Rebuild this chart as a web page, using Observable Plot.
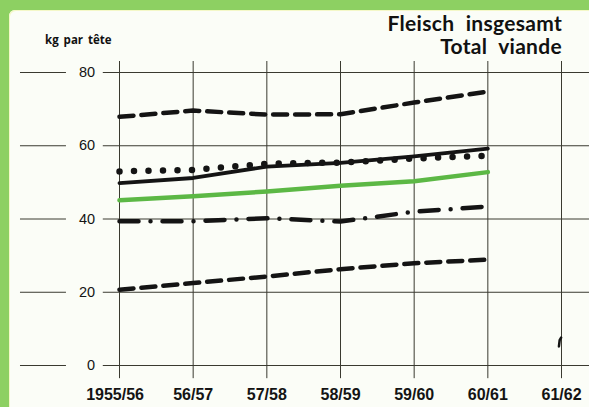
<!DOCTYPE html>
<html><head><meta charset="utf-8">
<script src="https://cdn.jsdelivr.net/npm/d3@7"></script>
<script src="https://cdn.jsdelivr.net/npm/@observablehq/plot@0.6"></script>
<style>
html,body{margin:0;padding:0;width:589px;height:407px;overflow:hidden;background:#8dd062;}
#panel{position:absolute;left:9px;top:10px;right:0;bottom:0;background:#fbfdf7;border-top-left-radius:6px;box-shadow:inset 1px 1px 0 #f4f8c8;}
#chart{position:absolute;left:0;top:0;}
.title{position:absolute;right:27px;text-align:right;font-family:Lato,"Open Sans",sans-serif;font-weight:700;font-size:21px;line-height:21px;color:#111;word-spacing:6px;letter-spacing:0.3px;white-space:nowrap;}
#t1{top:12px;}
#t2{top:35px;}
#unit{position:absolute;left:45px;top:32px;font-family:"Open Sans",sans-serif;font-weight:700;font-size:11.5px;color:#111;word-spacing:2px;}
</style></head>
<body>
<div id="panel"></div>
<div id="chart"></div>
<div class="title" id="t1">Fleisch insgesamt</div>
<div class="title" id="t2">Total viande</div>
<div id="unit">kg par tête</div>
<script>
const xLabels = ["1955/56","56/57","57/58","58/59","59/60","60/61","61/62"];
const yTicks = [0,20,40,60,80];
// series values, one per season 1955/56 .. 60/61
const topDashed   = [67.9, 69.6, 68.5, 68.6, 71.8, 74.8];
const dotted      = [53.0, 53.4, 55.1, 55.4, 56.5, 57.3];
const solid       = [49.8, 51.2, 54.3, 55.3, 57.1, 59.2];
const green       = [45.1, 46.2, 47.5, 49.1, 50.3, 52.8];
const dashDot     = [39.4, 39.4, 40.2, 39.3, 42.0, 43.4];
const lowDashed   = [20.7, 22.5, 24.3, 26.3, 27.9, 28.9];
// small stray pen mark near 61/62
const strayX = [5.965, 5.975, 5.995];
const strayY = [5.2, 6.9, 7.6];

const idx = xLabels.map((d,i)=>i);
const ink = "#141414";
const grid = "#3a3a30";
const lineOf = (vals, opts) => Plot.line(vals, {x:(d,i)=>i, y:d=>d, stroke:ink, strokeWidth:4, ...opts});

const chart = Plot.plot({
  width:589, height:407,
  marginLeft:119, marginRight:28, marginTop:72, marginBottom:42,
  style:{background:"transparent", overflow:"visible"},
  x:{type:"linear", domain:[0,6], axis:null},
  y:{domain:[0,80], axis:null},
  marks:[
    Plot.ruleY(yTicks, {x1:-0.22, x2:6.5, stroke:grid, strokeWidth:1}),
    Plot.ruleY(yTicks, {x1:-1.344, x2:-0.72, stroke:grid, strokeWidth:1}),
    Plot.text(yTicks, {x:-0.33, y:d=>d, text:d=>String(d), textAnchor:"end", fontSize:14.5, fontFamily:"Liberation Sans Narrow, Liberation Sans, Arial, sans-serif", fill:ink}),
    Plot.ruleX(idx, {x:d=>d, y1:-3.6, y2:83, stroke:grid, strokeWidth:1}),
    Plot.text(xLabels, {x:(d,i)=>i - (i === 0 ? 0.06 : 0), y:-8, text:d=>d, fontSize:16, fontWeight:"bold", fontFamily:"Liberation Sans Narrow, Liberation Sans, Arial, sans-serif", fill:ink}),
    lineOf(green, {stroke:"#5cb845", strokeWidth:4.5}),
    lineOf(topDashed, {strokeDasharray:"14 8", strokeWidth:4.5}),
    lineOf(lowDashed, {strokeDasharray:"14 8", strokeWidth:4.5}),
    lineOf(solid, {strokeWidth:3.8}),
    lineOf(dotted, {strokeDasharray:"0 14.5", strokeLinecap:"round", strokeWidth:6.5}),
    lineOf(dashDot, {strokeDasharray:"19 12 0 12", strokeLinecap:"round", strokeWidth:4.5}),
    Plot.line(strayX.map((x,i)=>({x, y:strayY[i]})), {x:"x", y:"y", stroke:ink, strokeWidth:2.5, strokeLinecap:"round"})
  ]
});
document.getElementById("chart").appendChild(chart);
</script>
</body></html>
